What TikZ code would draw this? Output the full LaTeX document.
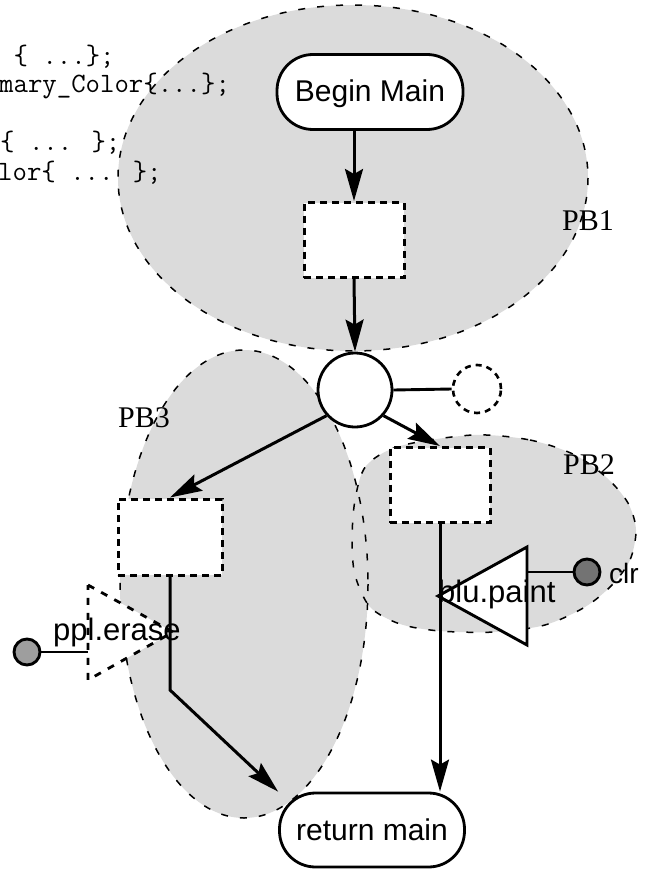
\documentclass[tikz,border=0pt]{standalone}
\usepackage{fontspec}
\setmainfont{Liberation Serif}
\newfontfamily\sansf{Liberation Sans}
\usetikzlibrary{arrows.meta}
\definecolor{stip}{gray}{0.86}
\definecolor{stipdark}{gray}{0.45}
\definecolor{stipmid}{gray}{0.62}
\begin{document}
\begin{tikzpicture}[x=1pt,y=-1pt,
 blob/.style={draw=black, line width=1.5pt, dash pattern=on 7pt off 12pt},
 box/.style={draw, line width=3pt, dash pattern=on 7pt off 5pt, fill=white, minimum width=100pt, minimum height=75pt, inner sep=0pt},
 term/.style={draw, line width=2.8pt, rounded corners=36pt, fill=white, minimum width=186pt, minimum height=75pt, inner sep=0pt, font=\sansf\fontsize{30pt}{36pt}\selectfont, text height=20pt, text depth=0pt},
 flow/.style={line width=3pt, -{Stealth[length=32pt,width=18pt,inset=5pt]}},
 wire/.style={line width=2.9pt},
 pblabel/.style={font=\fontsize{30pt}{36pt}\selectfont, anchor=base west, inner sep=0pt},
 code/.style={font=\ttfamily\fontsize{28pt}{34pt}\selectfont, anchor=base west, inner sep=0pt},
 lbl/.style={font=\sansf\fontsize{31pt}{36pt}\selectfont, anchor=base west, inner sep=0pt},
 port/.style={circle, draw, line width=2.9pt, minimum size=26pt, inner sep=0pt},
]
\useasboundingbox (0,0) rectangle (650,872);
\def\pbtwo{plot[smooth cycle] coordinates {(473,435) (530,440) (575,455) (607,478) (628,503) (636,530) (630,560) (612,585) (585,607) (545,625) (495,632) (440,631) (400,624) (370,607) (355,575) (352,540) (355,500) (366,466) (400,446)}}
% package regions
\fill[stip] (353,178) ellipse [x radius=235, y radius=173];
\fill[stip] (244,584) ellipse [x radius=124, y radius=234];
\fill[stip] \pbtwo;
\draw[blob] (353,178) ellipse [x radius=235, y radius=173];
\draw[blob] (244,584) ellipse [x radius=124, y radius=234];
\draw[blob] \pbtwo;
\node[pblabel] (pb1) at (562,230) {PB1};
\node[pblabel] (pb2) at (563,474) {PB2};
\node[pblabel] (pb3) at (118,427) {PB3};
% code text
\node[code] (t1) at (13.5,65) {\{ ...\};};
\node[code] (t2) at (-1,93) {mary\_Color\{...\};};
\node[code] (t3) at (0,150) {\{ ... \};};
\node[code] (t4) at (-2,180) {lor\{ ... \};};
% nodes
\node[term] (bm) at (370,92) {Begin Main};
\node[box] (r1) at (354,240) {};
\node[circle, draw, line width=2.8pt, fill=white, minimum size=74pt, inner sep=0pt] (c) at (355,390) {};
\node[circle, draw, line width=2.6pt, dash pattern=on 6pt off 5pt, fill=white, minimum size=48pt, inner sep=0pt] (dc) at (477,389) {};
\node[box] (r2) at (440,485) {};
\node[box, minimum width=104pt, minimum height=76pt] (r3) at (170,537) {};
\node[term, minimum width=185pt, minimum height=74pt] (rm) at (372,830) {return main};
% blu.paint
\coordinate (ba) at (438,596);
\coordinate (bt) at (527,547);
\coordinate (bb) at (527,645);
\draw[wire, fill=white] (ba) -- (bt) -- (bb) -- cycle;
\node[lbl] (blu) at (438,602) {blu.paint};
\node[port, fill=stipdark] (clr) at (587,572) {};
\draw[wire] (bt |- clr) -- (clr.west);
\node[font=\sansf\fontsize{28pt}{32pt}\selectfont, anchor=base west, inner sep=0pt] (clrt) at (609,583) {clr};
% ppl.erase
\coordinate (pt) at (88,585);
\coordinate (pb) at (88,680);
\coordinate (pa) at (173,632);
\draw[line width=2.8pt, dash pattern=on 7pt off 8pt, fill=white] (pt) -- (pa) -- (pb) -- cycle;
\node[lbl] (ppl) at (53,640) {ppl.erase};
\node[port, fill=stipmid] (pc) at (27,652) {};
\draw[wire] (pc.east) -- (pc.east -| pt);
% connectors
\draw[flow] (bm.south -| r1.north) -- (r1.north);
\draw[flow] (r1.south) -- (c.north);
\draw[wire] (c.east) -- (dc.west);
\draw[flow] (c.-42) -- (r2.north);
\draw[flow] (c.222) -- (r3.north);
\coordinate (k) at (170,690);
\draw[flow] (r3.south) -- (k) -- (rm.north west);
\draw[flow] (r2.south) -- (r2.south |- rm.north);
\end{tikzpicture}
\end{document}
